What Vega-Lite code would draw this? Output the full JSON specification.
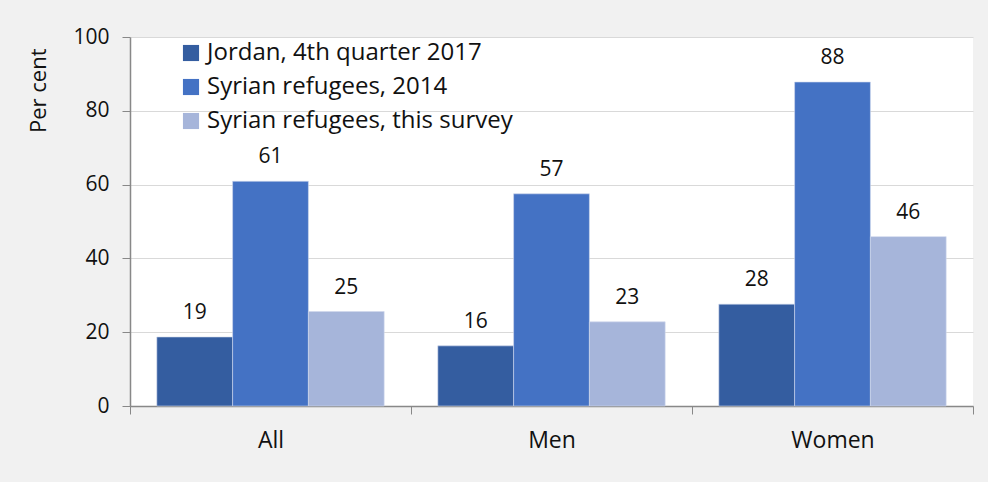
{
  "$schema": "https://vega.github.io/schema/vega-lite/v6.json",
  "autosize": {"type": "none"},
  "width": 843,
  "height": 369,
  "padding": {"left": 130, "top": 37, "right": 15, "bottom": 76},
  "background": "#f1f1f1",
  "config": {
    "font": "Open Sans",
    "view": {"fill": "white", "stroke": null}
  },
  "data": {
    "values": [
      {"group": "All", "series": "Jordan, 4th quarter 2017", "value": 18.7, "label": "19"},
      {"group": "All", "series": "Syrian refugees, 2014", "value": 60.9, "label": "61"},
      {"group": "All", "series": "Syrian refugees, this survey", "value": 25.6, "label": "25"},
      {"group": "Men", "series": "Jordan, 4th quarter 2017", "value": 16.3, "label": "16"},
      {"group": "Men", "series": "Syrian refugees, 2014", "value": 57.5, "label": "57"},
      {"group": "Men", "series": "Syrian refugees, this survey", "value": 22.8, "label": "23"},
      {"group": "Women", "series": "Jordan, 4th quarter 2017", "value": 27.6, "label": "28"},
      {"group": "Women", "series": "Syrian refugees, 2014", "value": 87.8, "label": "88"},
      {"group": "Women", "series": "Syrian refugees, this survey", "value": 45.9, "label": "46"}
    ]
  },
  "encoding": {
    "x": {
      "field": "group", "type": "nominal", "sort": ["All", "Men", "Women"],
      "scale": {"paddingInner": 0, "paddingOuter": 0},
      "axis": {
        "title": null, "labelAngle": 0, "labelFontSize": 23, "labelColor": "#111",
        "labelPadding": 15, "tickBand": "extent", "tickSize": 8, "tickColor": "#888",
        "domainColor": "#888", "domainWidth": 1.5, "grid": false
      }
    },
    "xOffset": {
      "field": "series", "type": "nominal",
      "sort": ["Jordan, 4th quarter 2017", "Syrian refugees, 2014", "Syrian refugees, this survey"],
      "scale": {"paddingInner": 0, "paddingOuter": 0.354}
    },
    "y": {
      "field": "value", "type": "quantitative",
      "scale": {"domain": [0, 100], "nice": false},
      "axis": {
        "title": "Per cent", "titleFontSize": 22, "titleFontWeight": "normal", "titleColor": "#111",
        "titleAngle": -90, "titleAlign": "right", "titleBaseline": "middle",
        "titleX": -92, "titleY": 11,
        "values": [0, 20, 40, 60, 80, 100], "labelFontSize": 21, "labelColor": "#111",
        "labelPadding": 13, "tickSize": 8, "tickColor": "#888", "domainColor": "#888",
        "domainWidth": 1.5, "gridColor": "#d9d9d9", "gridWidth": 1.2
      }
    }
  },
  "layer": [
    {
      "mark": {"type": "bar", "stroke": "#d0d8ec", "strokeWidth": 0.6},
      "encoding": {
        "color": {
          "field": "series", "type": "nominal",
          "sort": ["Jordan, 4th quarter 2017", "Syrian refugees, 2014", "Syrian refugees, this survey"],
          "scale": {"range": ["#345da0", "#4472c4", "#a6b5da"]},
          "legend": {
            "title": null, "orient": "none", "legendX": 49, "legendY": 4,
            "symbolType": "square", "symbolSize": 260, "symbolStrokeWidth": 0,
            "labelFontSize": 24, "labelColor": "#111", "rowPadding": 10, "labelOffset": 4,
            "labelLimit": 500
          }
        }
      }
    },
    {
      "mark": {"type": "text", "baseline": "bottom", "dy": -14, "fontSize": 21, "color": "#111"},
      "encoding": {"text": {"field": "label"}}
    }
  ]
}
